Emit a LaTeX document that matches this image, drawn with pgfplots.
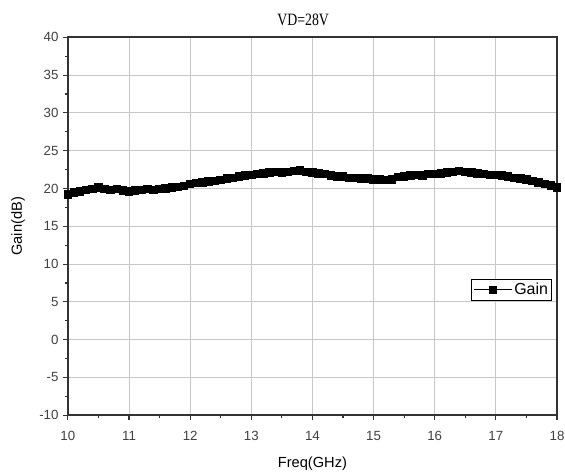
\documentclass[border=0pt]{standalone}
\usepackage{graphicx}
\usepackage{fontspec}
\setmainfont{Liberation Sans}
\newfontfamily\titlefont{Liberation Serif}
\usepackage{pgfplots}
\pgfplotsset{compat=1.18}

\begin{document}
\begin{tikzpicture}
  \useasboundingbox (-51pt,-44.25pt) rectangle (373.5pt,312pt);
  \begin{axis}[
    scale only axis,
    width=367.5pt, height=284pt,
    xmin=10, xmax=18, ymin=-10, ymax=40,
    xtick={10,11,...,18},
    ytick={-10,-5,...,40},
    minor x tick num=1,
    minor y tick num=1,
    xtick pos=left, ytick pos=left,
    tick align=outside,
    major tick length=3.5pt,
    minor tick length=2pt,
    every tick/.style={black!80, line width=0.8pt},
    axis line style={black!80, line width=1.2pt},
    grid=major,
    major grid style={black!22, line width=0.6pt},
    /pgf/number format/assume math mode=true,
    ticklabel style={font=\fontsize{10}{12}\selectfont, text=black!75},
    xticklabel style={yshift=-5pt},
    xlabel={Freq(GHz)},
    ylabel={Gain(dB)},
    label style={font=\fontsize{11}{13}\selectfont},
    xlabel style={yshift=-5pt},
    ylabel style={yshift=4pt},
    title={\titlefont\scalebox{0.8}[1]{VD=28V}},
    title style={font=\fontsize{13}{15}\selectfont, yshift=-1pt, xshift=-7pt},
    legend style={at={(0.99,0.332)}, anchor=east, draw=black, line width=0.8pt,
      font=\fontsize{12}{14}\selectfont, inner sep=1.5pt,
      nodes={inner sep=1.2pt}},
    legend cell align=left,
    legend image code/.code={
      \draw[mark repeat=2, mark phase=2] plot coordinates {(0cm,0cm) (0.5cm,0cm) (1.0cm,0cm)};
    },
  ]
    \addplot [black, line width=1pt, mark=square*, mark size=2.7pt, mark options={solid}] coordinates {
      (10.0,19.2) (10.1,19.5) (10.2,19.6) (10.3,19.8) (10.4,19.9)
      (10.5,20.1) (10.6,19.9) (10.7,19.8) (10.8,19.9) (10.9,19.7)
      (11.0,19.6) (11.1,19.7) (11.2,19.8) (11.3,19.9) (11.4,19.8)
      (11.5,19.9) (11.6,20.0) (11.7,20.1) (11.8,20.2) (11.9,20.3)
      (12.0,20.6) (12.1,20.7) (12.2,20.8) (12.3,20.9) (12.4,21.0)
      (12.5,21.1) (12.6,21.3) (12.7,21.4) (12.8,21.6) (12.9,21.7)
      (13.0,21.8) (13.1,21.9) (13.2,22.0) (13.3,22.1) (13.4,22.2)
      (13.5,22.1) (13.6,22.2) (13.7,22.3) (13.8,22.4) (13.9,22.2)
      (14.0,22.1) (14.1,22.0) (14.2,21.9) (14.3,21.7) (14.4,21.6)
      (14.5,21.6) (14.6,21.4) (14.7,21.4) (14.8,21.3) (14.9,21.3)
      (15.0,21.2) (15.1,21.2) (15.2,21.1) (15.3,21.2) (15.4,21.5)
      (15.5,21.6) (15.6,21.7) (15.7,21.8) (15.8,21.7) (15.9,21.9)
      (16.0,21.9) (16.1,22.0) (16.2,22.1) (16.3,22.2) (16.4,22.3)
      (16.5,22.2) (16.6,22.1) (16.7,22.0) (16.8,21.9) (16.9,21.8)
      (17.0,21.8) (17.1,21.7) (17.2,21.6) (17.3,21.4) (17.4,21.3)
      (17.5,21.2) (17.6,21.0) (17.7,20.8) (17.8,20.6) (17.9,20.4)
      (18.0,20.1)
    };
    \addlegendentry{Gain}
  \end{axis}
\end{tikzpicture}
\end{document}
